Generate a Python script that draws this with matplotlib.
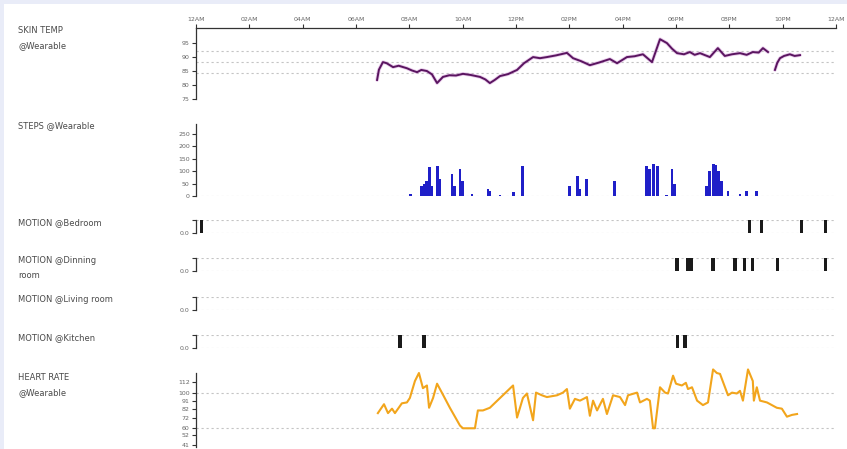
import matplotlib.pyplot as plt
from matplotlib.patches import Rectangle
import numpy as np

W, H = 847, 449

hour_ticks = [0, 2, 4, 6, 8, 10, 12, 14, 16, 18, 20, 22, 24]
hour_labels = ['12AM', '02AM', '04AM', '06AM', '08AM', '10AM', '12PM',
               '02PM', '04PM', '06PM', '08PM', '10PM', '12AM']

# skin temp, two pieces (gap around 9:30PM)
skin_h1 = [6.79, 6.86, 7.01, 7.15, 7.39, 7.6, 7.91, 8.1, 8.29, 8.45, 8.66, 8.85, 9.04, 9.26,
           9.5, 9.75, 10.01, 10.3, 10.65, 10.85, 11.02, 11.2, 11.4, 11.7, 12.04, 12.3, 12.64,
           12.9, 13.16, 13.5, 13.91, 14.14, 14.45, 14.77, 15.1, 15.52, 15.79, 16.16, 16.45,
           16.76, 17.1, 17.4, 17.66, 17.85, 18.04, 18.3, 18.52, 18.7, 18.9, 19.27, 19.57,
           19.83, 20.1, 20.4, 20.65, 20.88, 21.1, 21.26, 21.45]
skin_v1 = [81.8, 85.5, 88.2, 87.8, 86.4, 86.9, 86.0, 85.2, 84.6, 85.4, 85.0, 83.8, 80.7, 82.9,
           83.5, 83.4, 84.0, 83.6, 82.9, 82.0, 80.7, 81.8, 83.2, 83.9, 85.4, 87.8, 90.0,
           89.6, 90.0, 90.6, 91.5, 89.6, 88.5, 87.1, 88.0, 89.3, 87.8, 90.0, 90.3,
           91.0, 88.2, 96.4, 95.0, 93.0, 91.4, 91.0, 91.8, 90.8, 91.4, 90.0, 93.2,
           90.4, 91.0, 91.4, 90.8, 91.8, 91.6, 93.2, 91.8]
skin_h2 = [21.71, 21.8, 21.9, 22.05, 22.27, 22.45, 22.65]
skin_v2 = [85.4, 88.0, 89.6, 90.4, 91.0, 90.4, 90.7]
skin_ticks = [75, 80, 85, 90, 95]
skin_guides = [84.3, 88.2, 92.1]

steps_h = [8.06, 8.44, 8.55, 8.66, 8.74, 8.85, 9.04, 9.15, 9.6, 9.7, 9.9, 10.01, 10.35,
           10.95, 11.02, 11.4, 11.89, 12.26, 14.02, 14.29, 14.4, 14.66, 15.71, 16.91,
           17.0, 17.14, 17.29, 17.66, 17.85, 17.96, 19.16, 19.27, 19.39, 19.5, 19.6,
           19.72, 19.95, 20.4, 20.66, 21.03]
steps_v = [10, 40, 50, 60, 115, 40, 120, 70, 90, 40, 110, 60, 10,
           30, 20, 5, 15, 120, 40, 80, 30, 70, 60, 120,
           110, 130, 120, 5, 110, 50, 40, 100, 130, 125, 100,
           60, 20, 10, 20, 20]
steps_ticks = [0, 50, 100, 150, 200, 250]

motion_bedroom = [0.22, 20.77, 21.22, 22.72, 23.62]
motion_dining = [18.04, 18.45, 18.56, 19.39, 20.21, 20.58, 20.88, 21.82, 23.62]
motion_living = []
motion_kitchen = [7.65, 8.55, 18.07, 18.34]

hr_h = [6.82, 7.05, 7.2, 7.35, 7.46, 7.72, 7.91, 8.02, 8.21, 8.36, 8.51, 8.66, 8.74, 8.89,
        9.04, 9.22, 9.52, 9.9, 10.01, 10.46, 10.57, 10.76, 11.02, 11.89, 12.04, 12.26,
        12.41, 12.64, 12.75, 12.97, 13.16, 13.54, 13.76, 13.91, 14.02, 14.21, 14.4, 14.66,
        14.77, 14.89, 15.04, 15.26, 15.41, 15.64, 15.9, 16.09, 16.2, 16.54, 16.65, 16.91,
        17.02, 17.14, 17.21, 17.4, 17.59, 17.7, 17.89, 18.0, 18.22, 18.37, 18.45, 18.6,
        18.79, 19.01, 19.2, 19.39, 19.53, 19.65, 19.95, 20.1, 20.28, 20.4, 20.51, 20.7,
        20.88, 20.92, 21.03, 21.15, 21.41, 21.78, 21.97, 22.16, 22.35, 22.54]
hr_v = [77, 87, 77, 82, 77, 88, 89, 94, 113, 122, 105, 108, 83, 94,
        110, 100, 83, 63, 60, 60, 80, 80, 83, 108, 72, 94,
        99, 69, 100, 97, 95, 97, 100, 104, 82, 93, 91, 95,
        74, 91, 80, 93, 76, 97, 95, 86, 97, 100, 89, 93,
        91, 60, 60, 106, 100, 99, 119, 110, 108, 111, 104, 106,
        91, 86, 89, 126, 122, 121, 97, 100, 99, 102, 91, 126,
        113, 91, 106, 91, 89, 83, 82, 73, 75, 76]
hr_ticks = [41, 52, 60, 72, 82, 91, 100, 112]
hr_guides = [60, 100]

label_col = '#4a4a4a'
tick_col = '#666666'
guide_col = '#c4c4c4'

fig = plt.figure(figsize=(W / 100, H / 100), dpi=100)
fig.patch.set_facecolor('#e9ecf8')
fig.add_artist(Rectangle((4 / W, 0), 1, 1 - 4 / H, transform=fig.transFigure,
                         facecolor='white', edgecolor='none', zorder=0))

x0, x1 = 196, 836


def make_ax(ytop, ybot):
    ax = fig.add_axes([x0 / W, 1 - ybot / H, (x1 - x0) / W, (ybot - ytop) / H])
    ax.set_xlim(0, 24)
    ax.patch.set_alpha(0)
    for s in ['right', 'bottom', 'top']:
        ax.spines[s].set_visible(False)
    ax.spines['left'].set_color('#333333')
    ax.spines['left'].set_linewidth(0.9)
    ax.set_xticks([])
    ax.tick_params(axis='y', labelsize=4.5, colors='#333333', labelcolor=tick_col,
                   length=3, width=0.8, pad=1.5)
    return ax


def guides(ax, vals):
    for v in vals:
        ax.axhline(v, color=guide_col, lw=0.8, ls=(0, (2, 2.5)), zorder=1)


def side_label(text, y):
    fig.text(18 / W, 1 - y / H, text, fontsize=6, color=label_col, va='top',
             ha='left', linespacing=1.9)


# skin temp with top time axis
ax = make_ax(28, 99)
ax.set_ylim(75, 100.4)
ax.set_yticks(skin_ticks)
ax.spines['top'].set_visible(True)
ax.spines['top'].set_color('#333333')
ax.spines['top'].set_linewidth(0.9)
ax.xaxis.set_ticks_position('top')
ax.set_xticks(hour_ticks)
ax.set_xticklabels(hour_labels)
ax.tick_params(axis='x', labelsize=4.5, colors='#333333', labelcolor=tick_col,
               length=3, width=0.8, pad=1.5)
guides(ax, skin_guides)
for hh, vv in [(skin_h1, skin_v1), (skin_h2, skin_v2)]:
    ax.plot(hh, vv, color='#c06ac8', lw=2.6, alpha=0.35, zorder=2, solid_capstyle='round')
    ax.plot(hh, vv, color='#5a1560', lw=1.4, zorder=3)
side_label('SKIN TEMP\n@Wearable', 26)

# steps
ax = make_ax(124, 196)
ax.set_ylim(0, 290)
ax.set_yticks(steps_ticks)
guides(ax, [0])
ax.bar(steps_h, steps_v, width=0.11, color='#1f1fc8', zorder=3)
side_label('STEPS @Wearable', 121)

# motion panels
motion_tops = [220, 258, 297, 335]
motion_events = [motion_bedroom, motion_dining, motion_living, motion_kitchen]
motion_labels = ['MOTION @Bedroom', 'MOTION @Dinning\nroom', 'MOTION @Living room',
                 'MOTION @Kitchen']
for top, events, lab in zip(motion_tops, motion_events, motion_labels):
    ax = make_ax(top, top + 13)
    ax.set_ylim(0, 1)
    ax.set_yticks([0, 1])
    ax.set_yticklabels(['0.0', ''])
    guides(ax, [0, 1])
    if len(events):
        ax.bar(events, [1] * len(events), width=0.12, bottom=0, color='#1a1a1a',
               zorder=3, align='center')
    side_label(lab, top - 2)

# heart rate
ax = make_ax(373, 447)
ax.set_ylim(39, 122)
ax.set_yticks(hr_ticks)
guides(ax, hr_guides)
ax.plot(hr_h, hr_v, color='#f2a51c', lw=1.5, zorder=3, clip_on=False)
side_label('HEART RATE\n@Wearable', 373)

fig.savefig('out.png', dpi=100, facecolor=fig.get_facecolor())
